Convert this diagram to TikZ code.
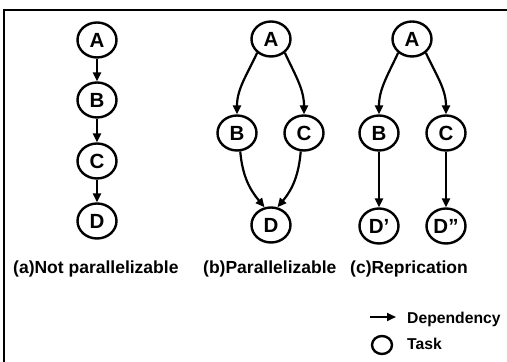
\documentclass[tikz,border=0pt]{standalone}
\usepackage{fontspec}
\setmainfont{Liberation Sans}
\usetikzlibrary{shapes.geometric,arrows.meta}
\begin{document}
\begin{tikzpicture}[x=1pt,y=1pt,
  task/.style={ellipse,draw,line width=2.4pt,minimum width=39pt,minimum height=35pt,
    inner sep=0pt,font=\fontsize{20.5}{22}\selectfont\bfseries},
  dep/.style={line width=2.2pt,-{Triangle[length=9pt,width=8pt]}},
  caption/.style={font=\fontsize{17.5}{20}\selectfont\bfseries,anchor=base west,inner sep=0pt},
  legendtext/.style={font=\fontsize{15.7}{18}\selectfont\bfseries,anchor=base west,inner sep=0pt}]
\useasboundingbox (0,0) rectangle (507,362);

% frame: top rule and left rule
\draw[line width=2.8pt] (3,352) -- (507,352);
\draw[line width=2pt] (4,0) -- (4,353);

% (a) chain
\node[task] (aA) at (97,322) {A};
\node[task] (aB) at (97,262) {B};
\node[task] (aC) at (97,201) {C};
\node[task] (aD) at (97,141) {D};
\draw[dep] (aA) -- (aB);
\draw[dep] (aB) -- (aC);
\draw[dep] (aC) -- (aD);

% (b) fork and join
\node[task] (bA) at (271,323) {A};
\node[task] (bB) at (237,229) {B};
\node[task] (bC) at (304,229) {C};
\node[task] (bD) at (271,137) {D};
\draw[dep] (bA.225) to[out=245,in=90] (bB.north);
\draw[dep] (bA.-45) to[out=-65,in=90] (bC.north);
\draw[dep] (bB.-80) to[out=-85,in=130] (bD.110);
\draw[dep] (bC.-100) to[out=-95,in=50] (bD.70);

% (c) replicated tails
\node[task] (cA) at (412,323) {A};
\node[task] (cB) at (379,229) {B};
\node[task] (cC) at (446,229) {C};
\node[task] (cD1) at (379,136) {D'};
\node[task] (cD2) at (446,136) {D''};
\draw[dep] (cA.225) to[out=245,in=90] (cB.north);
\draw[dep] (cA.-45) to[out=-65,in=90] (cC.north);
\draw[dep] (cB) -- (cD1);
\draw[dep] (cC) -- (cD2);

% captions
\node[caption] (capa) at (13,88) {(a)Not parallelizable};
\node[caption] (capb) at (203,88) {(b)Parallelizable};
\node[caption] (capc) at (350,88) {(c)Reprication};

% legend
\coordinate (legA) at (370,45);
\coordinate (legB) at (396,45);
\draw[dep] (legA) -- (legB);
\node[legendtext] (legdep) at (407,38) {Dependency};
\node[draw,ellipse,line width=2.4pt,minimum width=20pt,minimum height=18pt,inner sep=0pt] (legcirc) at (382,17) {};
\node[legendtext] (legtask) at (407,12) {Task};
\end{tikzpicture}
\end{document}
